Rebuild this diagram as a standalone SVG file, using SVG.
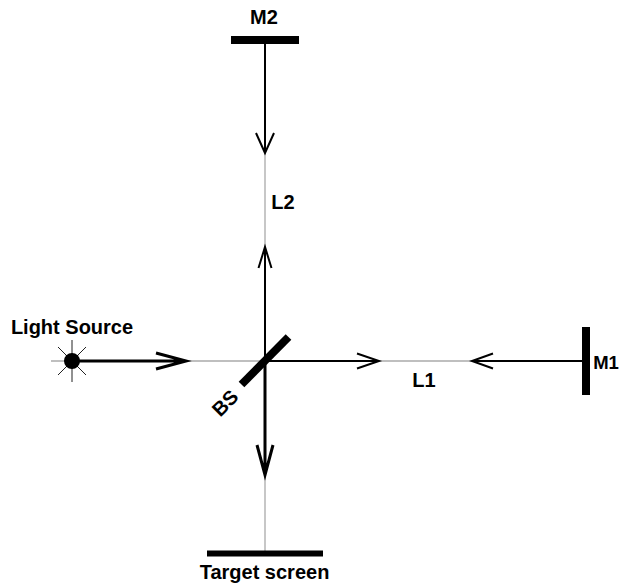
<svg xmlns="http://www.w3.org/2000/svg" width="619" height="585" viewBox="0 0 619 585">
<style>
text{font-family:"Liberation Sans",Arial,sans-serif;font-weight:bold;font-size:20px;fill:#000;text-anchor:middle}
.g{stroke:#aaa;stroke-width:1.3;fill:none}
.b{stroke:#000;stroke-width:2;fill:none}
.t{stroke:#000;stroke-width:3;fill:none}
.bar{stroke:#000;stroke-width:8;fill:none}
.ray{stroke:#222;stroke-width:1;fill:none}
</style>
<rect width="619" height="585" fill="#fff"/>
<g id="connectors">
<path class="g" d="M51 361H587M265 40V551"/>
<path class="b" d="M265 40V153M256 133L265 153L274 133"/>
<path class="b" d="M265 361V248M258.500 268L265 247L271.500 268"/>
<path class="b" d="M265 361H379M357 353.500L379 361L357 368.500"/>
<path class="b" d="M587 361H472M493 353.500L472 361L493 368.500"/>
<path class="t" d="M72 361H186M156 353L186 361L156 369"/>
<path class="t" d="M265 361V475M257 445L265 475L273 445"/>
</g>
<g id="light-source">
<path class="ray" d="M72 340V382M58 347L86 375M58 375L86 347"/>
<circle cx="72" cy="361" r="8"/>
<text x="72" y="334">Light Source</text>
</g>
<g id="beam-splitter">
<path class="bar" d="M288.500 337L241.500 384.500"/>
<text transform="translate(225 403) rotate(-45)" y="7">BS</text>
</g>
<g id="mirror-m1">
<path class="bar" d="M586 327V395"/>
<text x="606" y="369" style="font-size:18.5px">M1</text>
</g>
<g id="mirror-m2">
<path class="bar" d="M231 40H299"/>
<text x="264" y="24">M2</text>
</g>
<g id="target-screen">
<path class="bar" d="M207 553.500H323" style="stroke-width:6"/>
<text x="264.500" y="579">Target screen</text>
</g>
<g id="label-l1"><text x="424" y="387">L1</text></g>
<g id="label-l2"><text x="283" y="209">L2</text></g>
</svg>
